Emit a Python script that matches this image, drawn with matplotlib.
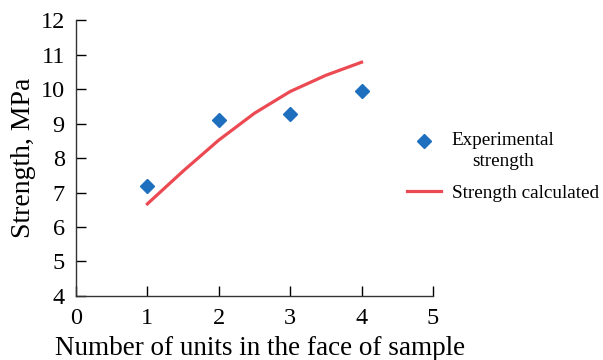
import numpy as np
import matplotlib
matplotlib.use("Agg")
import matplotlib.pyplot as plt
from matplotlib.legend_handler import HandlerLine2D

plt.rcParams["font.family"] = ["Liberation Serif", "DejaVu Serif"]

# measured points
units = [1, 2, 3, 4]
strength_exp = [7.2, 9.1, 9.27, 9.95]

# calculated curve
units_calc = [1.0, 1.5, 2.0, 2.5, 3.0, 3.5, 4.0]
strength_calc = [6.67, 7.62, 8.52, 9.30, 9.93, 10.40, 10.78]

xticks = [0, 1, 2, 3, 4, 5]
yticks = [4, 5, 6, 7, 8, 9, 10, 11, 12]


class RaisedHandler(HandlerLine2D):
    # put the marker next to the first line of a two-line label
    def create_artists(self, legend, orig_handle, xdescent, ydescent,
                       width, height, fontsize, trans):
        return super().create_artists(legend, orig_handle, xdescent,
                                      ydescent - 1.02 * fontsize, width, height,
                                      fontsize, trans)


fig = plt.figure(figsize=(6.03, 3.6), dpi=100)
ax = fig.add_axes([0.126, 0.178, 0.592, 0.766])

exp_line, = ax.plot(units, strength_exp, ls="none", marker="D", markersize=7.5,
                    color="#1f6fbf", label="Experimental\nstrength")
ax.plot(units_calc, strength_calc, color="#ec4a52", lw=2.3,
        label="Strength calculated")

ax.set_xlim(0, 5)
ax.set_ylim(4, 12)
ax.set_xticks(xticks)
ax.set_yticks(yticks)
ax.tick_params(direction="in", length=7, width=1, labelsize=17.5)
ax.tick_params(axis="x", pad=9)
ax.tick_params(axis="y", pad=8)
ax.spines["top"].set_visible(False)
ax.spines["right"].set_visible(False)
for s in ("left", "bottom"):
    ax.spines[s].set_linewidth(1)
    ax.spines[s].set_color("#333333")

ax.set_xlabel("Number of units in the face of sample", fontsize=19.5, labelpad=5)
ax.xaxis.label.set_x(0.515)
ax.set_ylabel("Strength, MPa", fontsize=20, labelpad=3.5)

leg = ax.legend(loc="upper left", bbox_to_anchor=(0.927, 0.595), frameon=False,
                fontsize=13.8, handlelength=1.8, handletextpad=0.55,
                labelspacing=0.75, borderpad=0, borderaxespad=0,
                handler_map={exp_line: RaisedHandler()})
leg.get_texts()[0].set_multialignment("center")
leg.get_texts()[0].set_linespacing(1.32)

fig.savefig("out.png", dpi=100)
